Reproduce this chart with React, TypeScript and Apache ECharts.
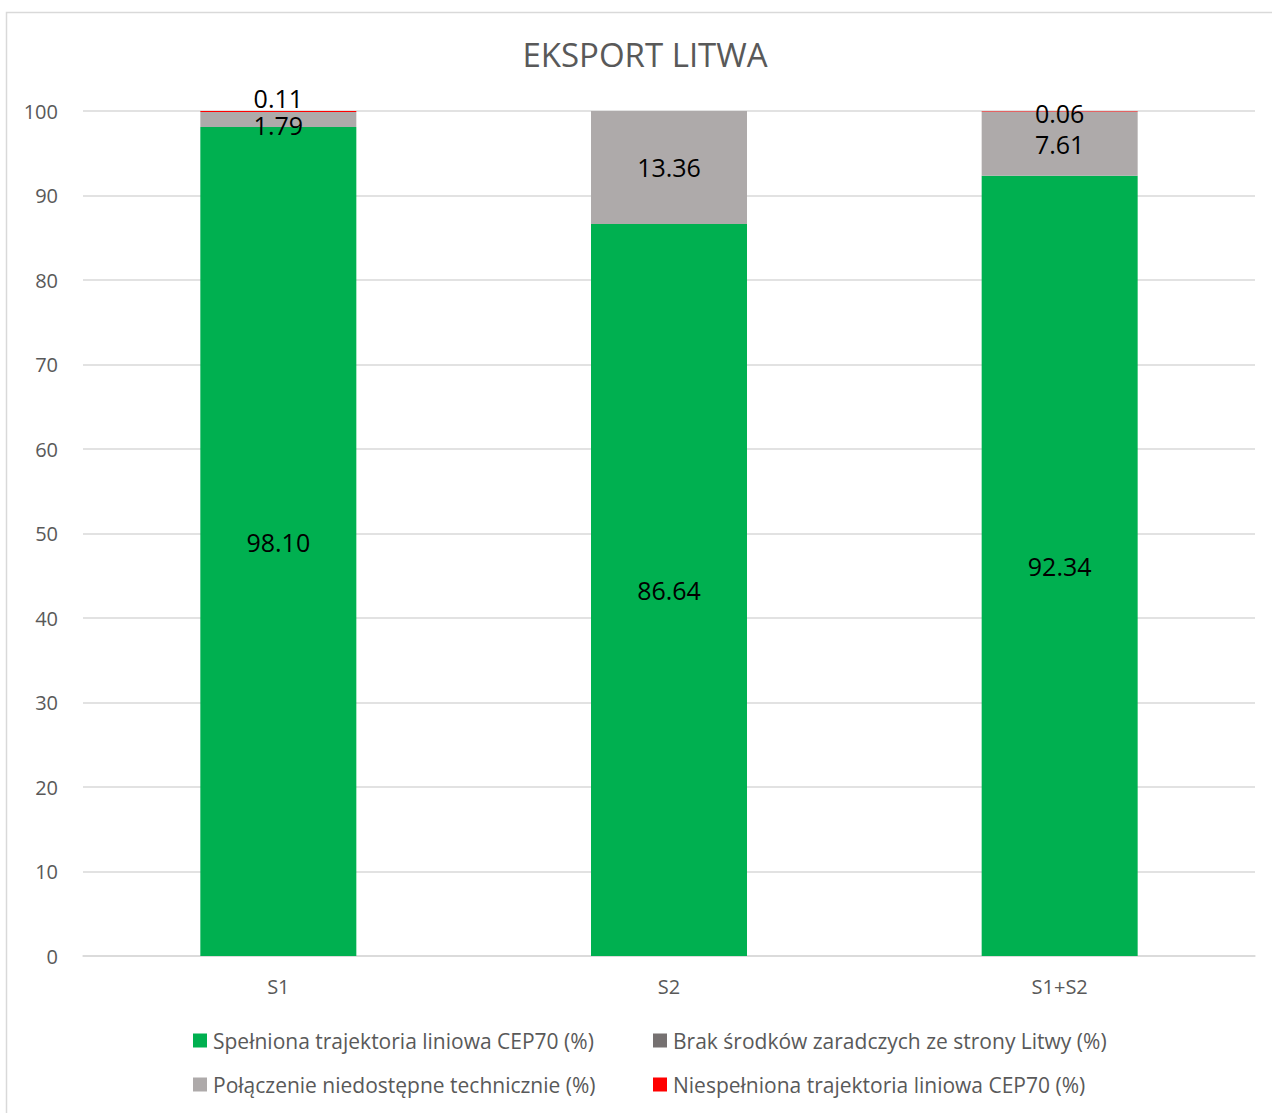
import React, { useEffect, useRef } from "react";
import * as echarts from "echarts";

const categories = ["S1", "S2", "S1+S2"];
const seriesNames = [
  "Spełniona trajektoria liniowa CEP70 (%)",
  "Połączenie niedostępne technicznie (%)",
  "Brak środków zaradczych ze strony Litwy (%)",
  "Niespełniona trajektoria liniowa CEP70 (%)",
];
const spelniona = [98.1, 86.64, 92.34];
const polaczenie = [1.79, 13.36, 7.61];
const brak = [0, 0, 0];
const niespelniona = [0.11, 0, 0.06];
const yTicks = { min: 0, max: 100, interval: 10 };

const colors = ["#00B050", "#AEAAAA", "#767171", "#FF0000"];
const FONT = "'Open Sans', sans-serif";

export default function App() {
  const ref = useRef<HTMLDivElement>(null);
  useEffect(() => {
    if (!ref.current) return;
    const chart = echarts.init(ref.current, null, { renderer: "svg" });
    const values = [spelniona, polaczenie, brak, niespelniona];
    const labelBase = {
      show: true,
      color: "#000000",
      fontSize: 25,
      fontFamily: FONT,
      formatter: (p: any) => (p.value > 0 ? Number(p.value).toFixed(2) : ""),
    };
    const series = values.map((vals, si) => ({
      name: seriesNames[si],
      type: "bar",
      stack: "total",
      barWidth: 156,
      itemStyle: { color: colors[si] },
      data: vals.map((v, i) => {
        const d: any = { value: v > 0 ? v : null };
        if (si === 3 && i === 0) {
          d.label = { position: "top", distance: 1 };
        }
        if (si === 3 && i === 2) {
          d.label = { position: "inside", offset: [0, 2] };
        }
        if (si === 1 && i === 0) {
          d.label = { position: "inside", offset: [0, 6] };
        }
        return d;
      }),
      label: { ...labelBase, position: "inside" },
    }));
    chart.setOption({
      animation: false,
      backgroundColor: "#ffffff",
      title: {
        text: "EKSPORT LITWA",
        left: 640,
        textAlign: "center",
        top: 33,
        textStyle: {
          color: "#595959",
          fontSize: 33,
          fontWeight: "normal",
          fontFamily: FONT,
        },
      },
      graphic: [
        {
          type: "rect",
          shape: { x: 6.5, y: 12.5, width: 1400, height: 1300 },
          style: { fill: "none", stroke: "#D9D9D9", lineWidth: 1.5 },
          silent: true,
        },
      ],
      legend: [
        {
          data: [seriesNames[0], seriesNames[1]],
          orient: "vertical",
          left: 188,
          top: 1021,
          itemWidth: 14,
          itemHeight: 14,
          itemGap: 15,
          icon: "rect",
          textStyle: { color: "#595959", fontSize: 21, lineHeight: 29, fontFamily: FONT, padding: [0, 0, 0, 1] },
        },
        {
          data: [seriesNames[2], seriesNames[3]],
          orient: "vertical",
          left: 648,
          top: 1021,
          itemWidth: 14,
          itemHeight: 14,
          itemGap: 15,
          icon: "rect",
          textStyle: { color: "#595959", fontSize: 21, lineHeight: 29, fontFamily: FONT, padding: [0, 0, 0, 1] },
        },
      ],
      grid: { left: 83, right: 17, top: 111, bottom: 157, containLabel: false },
      xAxis: {
        type: "category",
        data: categories,
        axisLine: { lineStyle: { color: "#D9D9D9", width: 1.5 } },
        axisTick: { show: false },
        axisLabel: { color: "#595959", fontSize: 20, fontFamily: FONT, margin: 20 },
      },
      yAxis: {
        type: "value",
        min: yTicks.min,
        max: yTicks.max,
        interval: yTicks.interval,
        axisLine: { show: false },
        axisTick: { show: false },
        splitLine: { lineStyle: { color: "#D9D9D9", width: 1.5 } },
        axisLabel: { color: "#595959", fontSize: 20, fontFamily: FONT, margin: 25 },
      },
      series,
    });
    return () => chart.dispose();
  }, []);
  return (
    <div
      ref={ref}
      style={{ position: "fixed", left: 0, top: 0, width: 1272, height: 1113 }}
    />
  );
}
